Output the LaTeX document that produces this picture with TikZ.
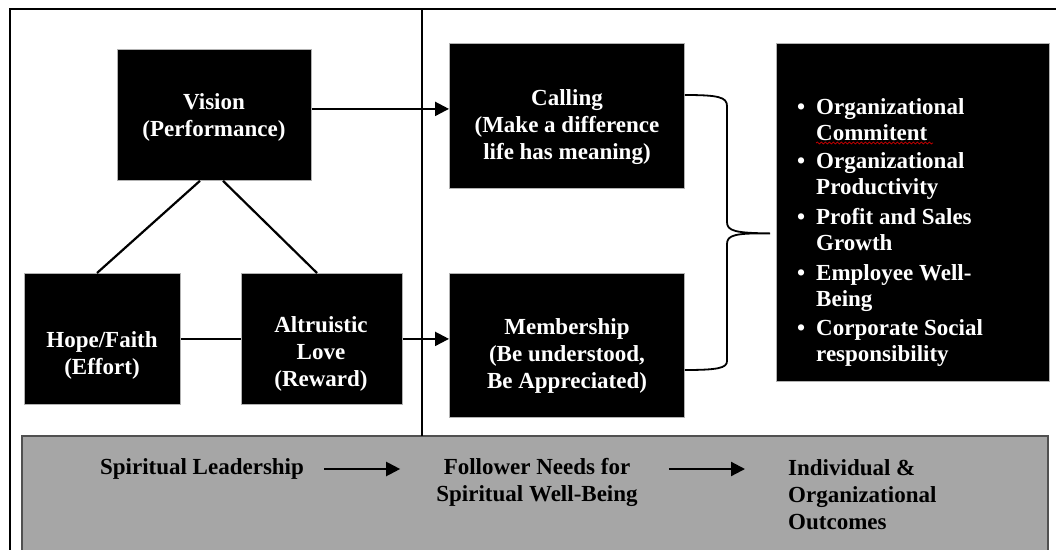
\documentclass[tikz,border=0pt]{standalone}
\usepackage{fontspec}
\setmainfont{Liberation Serif}
\usetikzlibrary{arrows.meta,decorations.pathmorphing}
\definecolor{bandgray}{HTML}{A6A6A6}
\definecolor{bandedge}{HTML}{505050}
\newcommand\outitem[2]{\begin{tabular}[t]{@{}l@{}l@{}}\makebox[19pt][l]{\textbullet} & #1\\ & #2\end{tabular}}
\begin{document}
\begin{tikzpicture}[x=1pt,y=-1pt,
  blk/.style={fill=black,draw=gray!60,line width=0.8pt,inner sep=0pt,anchor=north west},
  wtxt/.style={text=white,font=\bfseries\fontsize{23}{27}\selectfont,align=center,inner sep=0pt},
  btxt/.style={text=black,font=\bfseries\fontsize{23}{27}\selectfont,align=center,inner sep=0pt},
  otxt/.style={text=white,font=\bfseries\fontsize{23}{26}\selectfont,inner sep=0pt,anchor=base west},
  conn/.style={line width=2.2pt},
  arr/.style={line width=2.2pt,-{Triangle[length=14pt,width=14pt]}},
]
\useasboundingbox (0,0) rectangle (1056,549);
\fill[white] (0,0) rectangle (1056,549);
% frame, band, divider
\draw[line width=2.4pt] (10,9) rectangle (1070,570);
\draw[fill=bandgray,draw=bandedge,line width=1.8pt] (22,436) rectangle (1048,570);
\draw[line width=2.2pt] (422,9) -- (422,436);
% boxes
\node[blk,minimum width=194pt,minimum height=131pt] (vision) at (117,49) {};
\node[blk,minimum width=156pt,minimum height=131pt] (hope) at (24,273) {};
\node[blk,minimum width=161pt,minimum height=131pt] (altru) at (241,273) {};
\node[blk,minimum width=235pt,minimum height=145pt] (calling) at (449,43) {};
\node[blk,minimum width=235pt,minimum height=144pt] (member) at (449,273) {};
\node[blk,minimum width=273pt,minimum height=338pt] (outc) at (776,43) {};
% box texts
\node[wtxt] (visionT) at (214,117) {Vision\\(Performance)};
\node[wtxt] (hopeT) at (102,355) {Hope/Faith\\(Effort)};
\node[wtxt] (altruT) at (321,354) {Altruistic\\Love\\(Reward)};
\node[wtxt] (callingT) at (567,127) {Calling\\(Make a difference\\life has meaning)};
\node[wtxt] (memberT) at (567,356) {Membership\\(Be understood,\\Be Appreciated)};
% outcomes list
\node[otxt] (o1) at (797,114) {\outitem{Organizational}{Commitent}};
\node[otxt] (o2) at (797,168) {\outitem{Organizational}{Productivity}};
\node[otxt] (o3) at (797,224) {\outitem{Profit and Sales}{Growth}};
\node[otxt] (o4) at (797,280) {\outitem{Employee Well-}{Being}};
\node[otxt] (o5) at (797,335) {\outitem{Corporate Social}{responsibility}};
\draw[red!80!black,line width=0.7pt,decorate,decoration={snake,amplitude=1pt,segment length=4pt}] (816,143) -- (933,143);
% connectors
\draw[conn] ([xshift=83pt]vision.south west) -- ([xshift=73pt]hope.north west);
\draw[conn] ([xshift=106pt]vision.south west) -- ([xshift=76pt]altru.north west);
\draw[conn] (hope.east |- altru.west) -- (altru.west);
\draw[arr] ([yshift=6pt]vision.east) -- ([yshift=6pt]vision.east -| calling.west);
\draw[arr] (altru.east) -- (altru.east -| member.west);
% brace
\coordinate (bt) at ([yshift=-52pt]calling.north east);
\coordinate (bb) at ([yshift=-97pt]member.north east);
\coordinate (tip) at ([xshift=-6pt,yshift=-21pt]outc.west);
\draw[line width=1.8pt] (bt) .. controls (718,95) and (727,97) .. (727,106) -- (727,222)
  .. controls (727,231) and (735,233) .. (tip)
  .. controls (735,233) and (727,235) .. (727,244) -- (727,361)
  .. controls (727,368) and (718,370) .. (bb);
% band texts
\node[btxt] (slT) at (202,469) {Spiritual Leadership};
\node[btxt] (fnT) at (537,482.5) {Follower Needs for\\Spiritual Well-Being};
\node[btxt,align=left,anchor=west] (ioT) at (788,495) {Individual \&\\Organizational\\Outcomes};
\draw[arr] ([xshift=20pt]slT.east) -- ([xshift=-36pt]slT.east -| fnT.west);
\draw[arr] ([xshift=31pt]slT.east -| fnT.east) -- ([xshift=-43pt]slT.east -| ioT.west);
\end{tikzpicture}
\end{document}
